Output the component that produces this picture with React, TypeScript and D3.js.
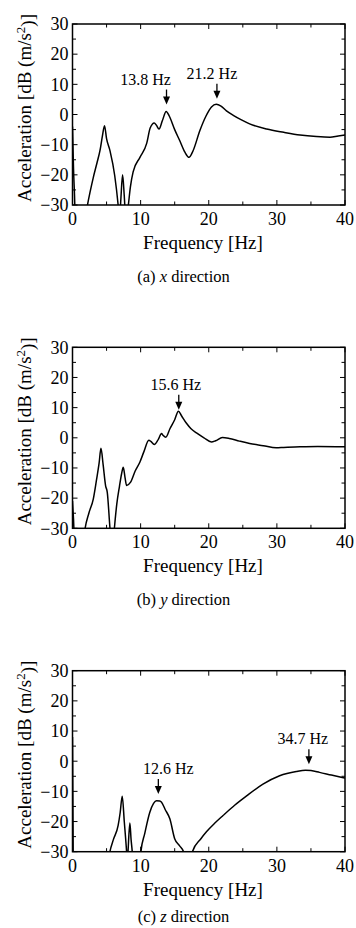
import React from "react";
import * as d3 from "d3";

type Pt = [number, number];

// frequency [Hz], acceleration [dB]
const xDirection: Pt[] = [
  [0, -4], [0.15, -18], [0.3, -27], [0.4, -34], [1.9, -34], [2.2, -30], [2.6, -25.5],
  [3.05, -20.9], [3.6, -16], [4.03, -12], [4.4, -7], [4.7, -3.7], [5.0, -8], [5.5, -12],
  [6.2, -20.3], [6.7, -30], [6.9, -35], [7.1, -28], [7.35, -20], [7.6, -27], [7.8, -34],
  [8.0, -34], [8.2, -30], [8.5, -24], [8.9, -19], [9.9, -14.2], [10.9, -9.5], [11.4, -4.5],
  [12.0, -2.8], [12.3, -3.5], [12.7, -4.8], [13.2, -2], [13.75, 1.0], [14.2, -0.5],
  [15.0, -5], [15.75, -8.7], [16.5, -12.5], [17.1, -14.2], [17.7, -12], [18.7, -5.3],
  [19.6, -0.5], [20.4, 2.5], [21.1, 3.4], [21.8, 2.8], [22.6, 1.2], [23.6, -0.3],
  [24.8, -1.8], [26, -3.1], [28.5, -4.8], [31, -5.9], [33.4, -6.8], [35.8, -7.3],
  [37.8, -7.5], [39, -7.1], [40, -6.8],
];

const yDirection: Pt[] = [
  [0, -21], [0.15, -27], [0.3, -34], [1.6, -34], [1.85, -30], [2.4, -25], [3.05, -20.3],
  [3.54, -13.7], [3.9, -8.5], [4.18, -3.5], [4.5, -9], [4.86, -15.9], [5.1, -18], [5.5, -30],
  [5.65, -34], [6.0, -34], [6.15, -30], [6.5, -22], [6.9, -16], [7.2, -12], [7.45, -9.8],
  [7.7, -13], [7.94, -15.8], [8.5, -14.8], [9.2, -11], [9.9, -8], [10.5, -4.5], [11.2, -0.8],
  [11.5, -1.2], [12.0, -2.2], [12.6, -0.5], [13.07, 1.4], [13.3, 0.8], [13.7, 0.2], [14.3, 3],
  [15.0, 6.0], [15.55, 8.8], [16.0, 7.3], [16.7, 4.9], [17.4, 3.0], [18.2, 1.6], [19.3, 0],
  [20.4, -1.4], [21.0, -1.0], [22.0, 0.1], [23.0, -0.2], [24.5, -1.1], [26, -1.9], [28, -2.6],
  [29.9, -3.3], [31, -3.2], [33.4, -3.0], [36, -2.9], [40, -3.0],
];

const zDirection: Pt[] = [
  [0, 8], [0.1, -30], [0.15, -34], [5.2, -34], [5.49, -30], [6.0, -26], [6.7, -21.3], [7.0, -17],
  [7.3, -11.6], [7.6, -20], [7.94, -30], [8.05, -34], [8.15, -30], [8.42, -20.5], [8.6, -26],
  [8.77, -30], [8.9, -34], [9.9, -34], [10.04, -30], [10.6, -24], [11.35, -16.9], [11.9, -14],
  [12.33, -13.1], [12.8, -13.2], [13.07, -13.6], [13.6, -16], [14.29, -19.1], [15.0, -25.7],
  [15.7, -28], [16.3, -30], [16.5, -34], [17.4, -34], [17.6, -30], [18.85, -25.7],
  [19.66, -23.4], [20.9, -20.5], [22.1, -18], [23.8, -14.6], [25.5, -11.6], [27.96, -7.6],
  [30.4, -4.8], [32.85, -3.4], [34.2, -3.0], [35, -3.1], [36.26, -3.7], [38, -4.6], [40, -5.6],
];

const freqTicks = [0, 10, 20, 30, 40];
const freqMinor = [5, 15, 25, 35];
const dbTicks = [-30, -20, -10, 0, 10, 20, 30];
const dbMinor = [-25, -15, -5, 5, 15, 25];

// peak markers: frequency, dB where the arrow tip points, text nudge
const xPeaks = [
  { f: 13.8, tip: 3.3, dx: -21 },
  { f: 21.2, tip: 5.2, dx: -5 },
];
const yPeaks = [{ f: 15.6, tip: 9.3, dx: -3 }];
const zPeaks = [
  { f: 12.6, tip: -10.9, dx: 10 },
  { f: 34.7, tip: -1.0, dx: -6 },
];

const FONT = "Times New Roman, Liberation Serif, Times, serif";
const LEFT = 72.5;
const PW = 272.5;
const PH = 181;

interface PanelProps {
  top: number;
  data: Pt[];
  peaks: { f: number; tip: number; dx: number }[];
  caption: string;
  axisName: string;
  id: string;
}

const Panel: React.FC<PanelProps> = ({ top, data, peaks, caption, axisName, id }) => {
  const x = d3.scaleLinear().domain([0, 40]).range([LEFT, LEFT + PW]);
  const y = d3.scaleLinear().domain([-30, 30]).range([top + PH, top]);
  const line = d3
    .line<Pt>()
    .x((d) => x(d[0]))
    .y((d) => y(d[1]))
    .curve(d3.curveMonotoneX);

  const bottom = top + PH;
  const right = LEFT + PW;

  return (
    <g fontFamily={FONT}>
      <defs>
        <clipPath id={id}>
          <rect x={LEFT} y={top} width={PW} height={PH} />
        </clipPath>
      </defs>
      <path d={line(data) ?? ""} fill="none" stroke="#000" strokeWidth={1.5} clipPath={`url(#${id})`} />

      {/* ticks on all four sides, pointing in */}
      {freqTicks.concat(freqMinor).map((f) => {
        const len = freqTicks.includes(f) ? 5 : 3.5;
        return (
          <g key={"fx" + f} stroke="#000" strokeWidth={1}>
            <line x1={x(f)} x2={x(f)} y1={bottom} y2={bottom - len} />
            <line x1={x(f)} x2={x(f)} y1={top} y2={top + len} />
          </g>
        );
      })}
      {dbTicks.concat(dbMinor).map((v) => {
        const len = dbTicks.includes(v) ? 5 : 3.5;
        return (
          <g key={"dy" + v} stroke="#000" strokeWidth={1}>
            <line x1={LEFT} x2={LEFT + len} y1={y(v)} y2={y(v)} />
            <line x1={right} x2={right - len} y1={y(v)} y2={y(v)} />
          </g>
        );
      })}
      <rect x={LEFT} y={top} width={PW} height={PH} fill="none" stroke="#000" strokeWidth={1.5} />

      {freqTicks.map((f) => (
        <text key={"fl" + f} x={x(f)} y={bottom + 20} textAnchor="middle" fontSize={18}>
          {f}
        </text>
      ))}
      {dbTicks.map((v) => (
        <text key={"dl" + v} x={LEFT - 4} y={y(v)} dy="0.35em" textAnchor="end" fontSize={18}>
          {v < 0 ? "\u2212" + Math.abs(v) : v}
        </text>
      ))}

      <text x={203} y={top + 225} textAnchor="middle" fontSize={19}>
        Frequency [Hz]
      </text>
      <text transform={`translate(31,${top + 84}) rotate(-90)`} textAnchor="middle" fontSize={19}>
        Acceleration [dB (m/s
        <tspan dy="-0.45em" fontSize={13}>2</tspan>
        <tspan dy="0.45em">)]</tspan>
      </text>

      {peaks.map((p) => {
        const px = x(p.f);
        const ty = y(p.tip);
        return (
          <g key={"pk" + p.f}>
            <line x1={px} x2={px} y1={ty - 15} y2={ty - 6} stroke="#000" strokeWidth={1.3} />
            <path d={`M${px - 3.5},${ty - 8} L${px + 3.5},${ty - 8} L${px},${ty} Z`} fill="#000" />
            <text x={px + p.dx} y={ty - 20} textAnchor="middle" fontSize={16}>
              {p.f.toFixed(1)} Hz
            </text>
          </g>
        );
      })}

      {/* the last caption sits at the bottom edge of the page */}
      <text x={183.5} y={Math.min(top + 258, 922)} textAnchor="middle" fontSize={16.5}>
        ({axisName}) <tspan fontStyle="italic">{caption}</tspan> direction
      </text>
    </g>
  );
};

export default function App() {
  return (
    <svg
      width={356}
      height={928}
      viewBox="0 0 356 928"
      style={{ position: "absolute", left: 0, top: 0, background: "#fff" }}
    >
      <rect width={356} height={928} fill="#fff" />
      <Panel id="cx" top={24} data={xDirection} peaks={xPeaks} axisName="a" caption="x" />
      <Panel id="cy" top={347.3} data={yDirection} peaks={yPeaks} axisName="b" caption="y" />
      <Panel id="cz" top={670.7} data={zDirection} peaks={zPeaks} axisName="c" caption="z" />
    </svg>
  );
}
